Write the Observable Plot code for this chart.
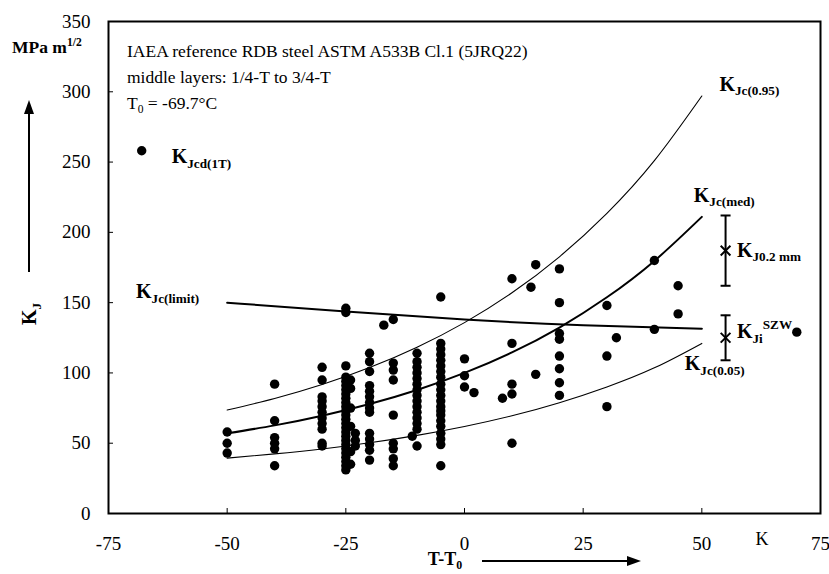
<!DOCTYPE html>
<html><head><meta charset="utf-8">
<script src="https://cdn.jsdelivr.net/npm/d3@7"></script>
<script src="https://cdn.jsdelivr.net/npm/@observablehq/plot@0.6"></script>
<style>
body{margin:0;background:#fff}
#chart svg{overflow:visible}
#chart svg, #chart svg text, #chart svg tspan{font-family:"Liberation Serif","Times New Roman",serif !important}
</style>
</head><body><div id="chart"></div>
<script>
// ---- data ----
const xTicks = [-75, -50, -25, 0, 25, 50, 75];
const yTicks = [0, 50, 100, 150, 200, 250, 300, 350];

// K_Jcd(1T) test results: T-T0 (K) and K_J (MPa m^1/2)
const tempDiff = [
  -50,-50,-50,
  -40,-40,-40,-40,-40,-40,
  -30,-30,-30,-30,-30,-30,-30,-30,-30,-30,-30,
  -25,-25,-25,-25,-25,-25,-25,-25,-25,-25,-25,-25,-25,-25,-25,-25,-25,-25,-25,-25,-25,-25,-25,-25,-25,-25,
  -24,-24,-24,-24,-24,-24,-23,-23,-23,
  -20,-20,-20,-20,-20,-20,-20,-20,-20,-20,-20,-20,-20,-20,
  -17,
  -15,-15,-15,-15,-15,-15,-15,-15,-15,
  -11,
  -10,-10,-10,-10,-10,-10,-10,-10,-10,-10,-10,-10,-10,-10,-10,
  -5,-5,-5,-5,-5,-5,-5,-5,-5,-5,-5,-5,-5,-5,-5,-5,-5,-5,-5,-5,-5,
  0,0,0,2,8,
  10,10,10,10,10,14,15,15,
  20,20,20,20,20,20,20,20,
  30,30,30,32,40,40,45,45,70
];
const kJcd = [
  58,50,43,
  92,66,54,50,46,34,
  104,95,83,80,76,72,68,64,60,50,48,
  146,143,105,97,94,91,88,85,82,79,76,73,70,67,64,61,58,55,52,49,46,43,40,37,34,31,
  95,89,75,62,44,35,57,52,48,
  114,108,101,91,87,83,79,75,72,57,53,49,45,38,
  134,
  138,107,102,95,70,50,46,39,34,
  55,
  114,108,104,100,96,92,88,84,80,76,72,68,64,60,48,
  154,121,117,113,109,105,101,97,92,88,84,80,76,73,70,66,62,57,53,49,34,
  110,98,90,86,82,
  167,121,92,85,50,161,177,99,
  174,150,128,124,112,103,93,84,
  148,112,76,125,180,131,162,142,129
];

// Master curve and tolerance bounds
const curveT = [-50, -40, -30, -20, -10, 0, 10, 20, 30, 40, 50];
const kMed   = [57, 62.7, 69.6, 77.9, 87.9, 100, 114.6, 132.3, 153.8, 179.7, 211];
const k95    = [73.6, 81.8, 91.7, 103.8, 118.3, 135.8, 157, 182.6, 213.5, 251, 297];
const k05    = [39.4, 42.4, 45.9, 50.3, 55.6, 61.9, 69.5, 78.8, 90, 103.6, 121];
const limitT = [-50, -25, 0, 25, 50];
const kLimit = [150, 143.7, 138, 134, 131.5];

// scatter bands at T-T0 = 55 K
const bandName = ["KJ0.2mm", "KJi SZW"];
const bandT    = [55, 55];
const bandLo   = [162, 109];
const bandMid  = [187, 125];
const bandHi   = [212, 141];

// curve labels (anchor in data units)
const labelText = ["K_{Jc(0.95)}", "K_{Jc(med)}", "K_{J0.2 mm}", "K_{Ji}^{SZW}", "K_{Jc(0.05)}", "K_{Jc(limit)}"];
const labelT = [53.7, 48.3, 57.4, 57.4, 46.4, -69.2];
const labelK = [305.4, 226.4, 187.3, 129.6, 106.5, 157.6];

// ---- build tables ----
const points = tempDiff.map((t, i) => ({t, k: kJcd[i]}));
const curves = curveT.map((t, i) => ({t, med: kMed[i], p95: k95[i], p05: k05[i]}));
const limit = limitT.map((t, i) => ({t, k: kLimit[i]}));
const bands = bandName.map((n, i) => ({n, t: bandT[i], lo: bandLo[i], mid: bandMid[i], hi: bandHi[i]}));
const labels = labelText.map((s, i) => ({s, t: labelT[i], k: labelK[i]}));

const capSymbol = {draw(ctx, size) { const r = Math.sqrt(size / Math.PI); ctx.moveTo(-r, 0); ctx.lineTo(r, 0); }};
const SERIF = '"Liberation Serif", "Times New Roman", serif';

const chart = Plot.plot({
  width: 829, height: 574,
  marginLeft: 108, marginRight: 9, marginTop: 21, marginBottom: 61,
  style: {fontFamily: SERIF, fontSize: "19px", color: "black", background: "white", overflow: "visible"},
  x: {domain: [-75, 75]},
  y: {domain: [0, 350]},
  marks: [
    Plot.axisX(xTicks, {tickSize: -5, tickPadding: 28, label: null, fontSize: 19, tickFormat: d => String(d)}),
    Plot.axisY(yTicks, {tickSize: -5, tickPadding: 23, label: null, fontSize: 19, tickFormat: d => String(d)}),
    Plot.line(curves, {x: "t", y: "p95", stroke: "black", strokeWidth: 1.1, curve: "natural"}),
    Plot.line(curves, {x: "t", y: "p05", stroke: "black", strokeWidth: 1.1, curve: "natural"}),
    Plot.line(curves, {x: "t", y: "med", stroke: "black", strokeWidth: 2, curve: "natural"}),
    Plot.line(limit, {x: "t", y: "k", stroke: "black", strokeWidth: 2, curve: "natural"}),
    Plot.dot(points, {x: "t", y: "k", r: 4.7, fill: "black", stroke: "none"}),
    Plot.ruleX(bands, {x: "t", y1: "lo", y2: "hi", stroke: "black", strokeWidth: 2}),
    Plot.dot(bands, {x: "t", y: "lo", symbol: capSymbol, r: 5, stroke: "black", strokeWidth: 2}),
    Plot.dot(bands, {x: "t", y: "hi", symbol: capSymbol, r: 5, stroke: "black", strokeWidth: 2}),
    Plot.dot(bands, {x: "t", y: "mid", symbol: "times", r: 4.5, stroke: "black", strokeWidth: 2}),
    Plot.text(labels, {x: "t", y: "k", text: "s", textAnchor: "start", lineAnchor: "middle", fontSize: 20, fontWeight: "bold", fill: "black"}),
    Plot.frame({stroke: "black", strokeWidth: 2})
  ]
});
document.getElementById("chart").appendChild(chart);

// ---- extra texts: title block, legend, axis titles and arrows ----
const svg = d3.select(chart);
const g = svg.append("g").attr("fill", "black").attr("font-family", SERIF);
const addText = (x, y, s, opts = {}) => {
  const t = g.append("text").attr("x", x).attr("y", y).text(s)
    .attr("font-size", opts.size || 17.5)
    .attr("font-weight", opts.weight || "normal")
    .attr("text-anchor", opts.anchor || "start");
  if (opts.transform) t.attr("transform", opts.transform);
  return t;
};
addText(127, 57, "IAEA reference RDB steel ASTM A533B Cl.1 (5JRQ22)");
addText(127, 83, "middle layers: 1/4-T to 3/4-T");
addText(127, 109, "T_{0} = -69.7°C");
// legend
g.append("circle").attr("cx", 141.7).attr("cy", 150.7).attr("r", 4.7);
addText(171.7, 163, "K_{Jcd(1T)}", {size: 20, weight: "bold"});
// y axis title
addText(12, 53, "MPa m^{1/2}", {size: 17.5, weight: "bold"});
addText(0, 0, "K_{J}", {size: 20, weight: "bold", anchor: "middle", transform: "translate(36,314) rotate(-90)"});
// x axis title
addText(445, 565, "T-T_{0}", {size: 18, weight: "bold", anchor: "middle"});
addText(762, 545, "K", {size: 18, anchor: "middle"});
// arrows
const arrow = (x1, y1, x2, y2) => {
  const a = Math.atan2(y2 - y1, x2 - x1), L = 14, W = 5;
  const bx = x2 - L * Math.cos(a), by = y2 - L * Math.sin(a);
  g.append("line").attr("x1", x1).attr("y1", y1).attr("x2", bx).attr("y2", by).attr("stroke", "black").attr("stroke-width", 2);
  g.append("path").attr("d", `M${x2},${y2}L${bx - W * Math.sin(a)},${by + W * Math.cos(a)}L${bx + W * Math.sin(a)},${by - W * Math.cos(a)}Z`);
};
arrow(29, 272, 29, 100);
arrow(482, 561, 641, 561);

// ---- rich text: _{sub} and ^{sup} ----
function richify(el) {
  const s = el.textContent;
  if (!/[_^]\{/.test(s)) return;
  const fs = parseFloat(getComputedStyle(el).fontSize) || 19;
  el.textContent = "";
  const re = /([_^])\{([^}]*)\}|([^_^]+)/g;
  let m, shift = 0;
  while ((m = re.exec(s))) {
    const t = document.createElementNS("http://www.w3.org/2000/svg", "tspan");
    if (m[3]) {
      t.textContent = m[3];
      if (shift) t.setAttribute("dy", -shift);
      shift = 0;
    } else {
      const target = m[1] === "_" ? 0.24 * fs : -0.42 * fs;
      t.setAttribute("dy", target - shift);
      t.setAttribute("font-size", 0.66 * fs);
      t.textContent = m[2];
      shift = target;
    }
    el.appendChild(t);
  }
}
chart.querySelectorAll("text").forEach(richify);
</script></body></html>
